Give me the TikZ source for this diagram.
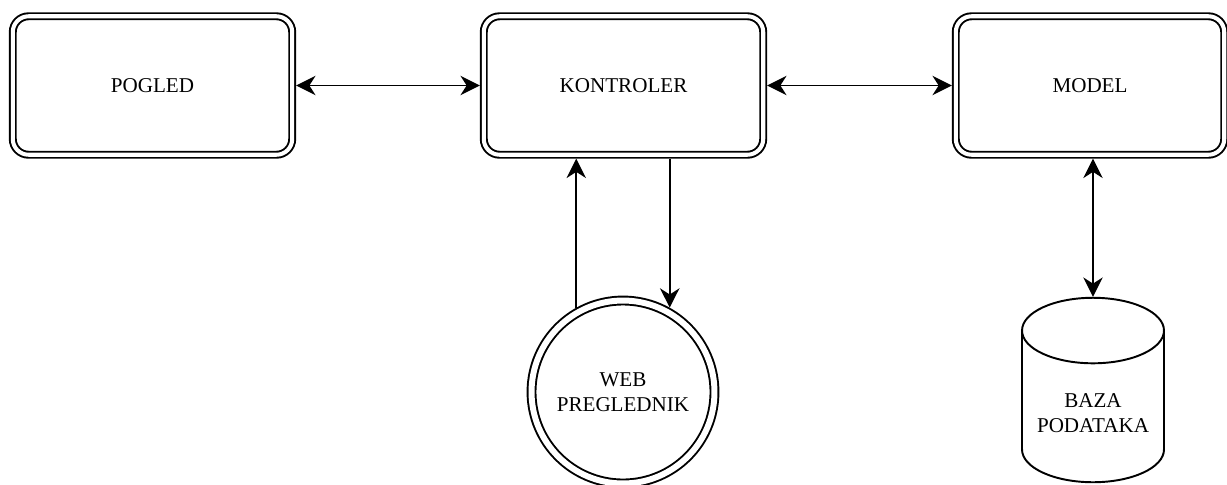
\documentclass[tikz,border=0pt]{standalone}
\usepackage{fontspec}
\setmainfont{Liberation Serif}
\usetikzlibrary{arrows.meta, shapes.geometric, positioning}
\tikzset{>={Stealth[length=11pt,width=11pt,inset=3.5pt]}}

\begin{document}
\begin{tikzpicture}[x=0.02cm, y=-0.02cm, line width=1.1pt,
    blok/.style={rectangle, draw, rounded corners=9pt, double, double distance=2.3pt,
      minimum width=5.59cm, minimum height=2.77cm, outer sep=2.25pt,
      font=\fontsize{12}{14}\selectfont},
    krug/.style={circle, draw, double, double distance=3.4pt, minimum size=3.66cm,
      outer sep=2.8pt, align=center, font=\fontsize{12}{14.2}\selectfont},
    baza/.style={cylinder, draw, shape border rotate=90, aspect=0.53,
      minimum width=2.84cm, minimum height=3.69cm, outer sep=0.55pt,
      align=center, font=\fontsize{12}{14.2}\selectfont}]
  \useasboundingbox (0,0) rectangle (1227,484);

  \node (pogled) at (152.5, 85.5) [blok] {POGLED};
  \node (kontroler) at (623.5, 85.5) [blok] {KONTROLER};
  \node (model) at (1090, 85.5) [blok, minimum width=5.37cm] {MODEL};

  \node (preglednik) at (623, 392) [krug] {WEB\\PREGLEDNIK};
  \node (podaci) at (1093, 390) [baza, anchor=shape center] {BAZA\\PODATAKA};

  \draw [<->] (pogled.east) -- (kontroler.west);
  \draw [<->] (kontroler.east) -- (model.west);
  \draw [->] (preglednik.119) -- (preglednik.119 |- kontroler.south);
  \draw [->] (preglednik.61 |- kontroler.south) -- (preglednik.61);
  \draw [<->] (podaci.north |- model.south) -- (podaci.north);
\end{tikzpicture}
\end{document}
